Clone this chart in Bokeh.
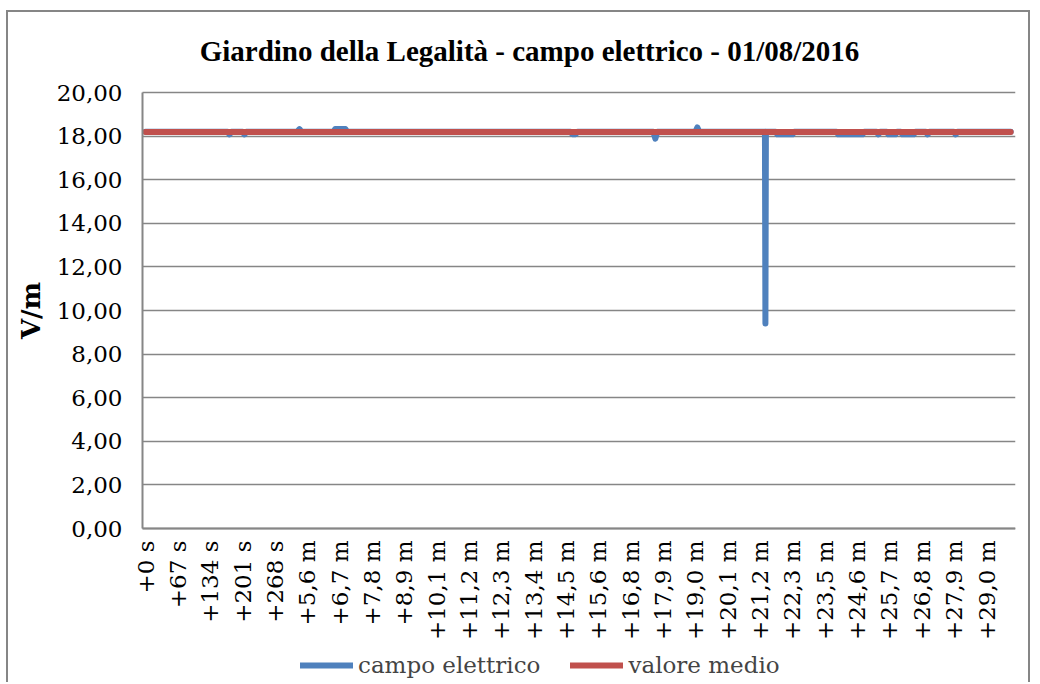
from bokeh.plotting import figure
from bokeh.models import (FixedTicker, CustomJSTickFormatter, Legend, LegendItem, Range1d, Label)
from bokeh.embed import file_html
from bokeh.resources import INLINE

title_text = "Giardino della Legalità - campo elettrico - 01/08/2016"
y_label = "V/m"
series_names = ["campo elettrico", "valore medio"]

tick_seconds = [0, 67, 134, 201, 268, 335, 402, 469, 536, 603, 670, 737, 804, 871,
                938, 1005, 1072, 1139, 1206, 1273, 1340, 1407, 1474, 1541, 1608, 1675, 1742]
tick_labels = ["+0 s", "+67 s", "+134 s", "+201 s", "+268 s", "+5,6 m", "+6,7 m", "+7,8 m",
               "+8,9 m", "+10,1 m", "+11,2 m", "+12,3 m", "+13,4 m", "+14,5 m", "+15,6 m",
               "+16,8 m", "+17,9 m", "+19,0 m", "+20,1 m", "+21,2 m", "+22,3 m", "+23,5 m",
               "+24,6 m", "+25,7 m", "+26,8 m", "+27,9 m", "+29,0 m"]

# campo elettrico (V/m): breakpoints (time in seconds)
field_time = [0, 170, 174, 178, 201, 205, 209, 314, 319, 323, 389, 393, 414, 418,
              880, 884, 891, 895, 1052, 1056, 1060, 1139, 1143, 1147, 1283, 1284, 1285,
              1305, 1309, 1340, 1344, 1431, 1435, 1485, 1489, 1514, 1518, 1522,
              1535, 1539, 1553, 1557, 1564, 1568, 1591, 1595, 1616, 1620, 1624,
              1674, 1678, 1682, 1792]
field_value = [18.20, 18.20, 18.08, 18.20, 18.20, 18.08, 18.20, 18.20, 18.32, 18.20, 18.20, 18.32, 18.32, 18.20,
               18.20, 18.09, 18.09, 18.20, 18.20, 17.88, 18.20, 18.20, 18.40, 18.20, 18.20, 9.40, 18.20,
               18.20, 18.08, 18.08, 18.20, 18.20, 18.08, 18.08, 18.20, 18.20, 18.08, 18.20,
               18.20, 18.08, 18.08, 18.20, 18.20, 18.08, 18.08, 18.20, 18.20, 18.08, 18.20,
               18.20, 18.08, 18.20, 18.20]

# valore medio
mean_time = [0, 1792]
mean_value = [18.19, 18.19]

y_ticks = [0, 2, 4, 6, 8, 10, 12, 14, 16, 18, 20]
y_min, y_max = 0, 20

BLUE = "#4F81BD"
RED = "#C0504D"
GRAY = "#868686"
SERIF = "DejaVu Serif"

# layout (page pixels): the frame covers the whole chart so nothing gets clipped
PX_PER_S = 0.4828
FRAME_L, AXIS_X, FRAME_R, ZERO_X = 8, 142, 1015, 145
FRAME_T, TOP_Y, ZERO_Y, FRAME_B = 12, 92, 528, 684
PX_PER_V = (ZERO_Y - TOP_Y) / (y_max - y_min)
x_lo = (FRAME_L - ZERO_X) / PX_PER_S
x_axis_at = (AXIS_X - ZERO_X) / PX_PER_S
x_hi = (FRAME_R - ZERO_X) / PX_PER_S
y_lo = y_min - (FRAME_B - ZERO_Y) / PX_PER_V
y_hi = y_max + (TOP_Y - FRAME_T) / PX_PER_V

p = figure(width=1024, height=672, output_backend="svg", toolbar_location=None,
           x_range=Range1d(x_lo, x_hi), y_range=Range1d(y_lo, y_hi),
           min_border_left=0, min_border_right=17, min_border_top=0, min_border_bottom=0)
p.margin = (10, 0, 0, 6)
p.styles = {"border-top": "2px solid #868686", "border-left": "2px solid #868686",
            "border-right": "2px solid #868686"}
p.outline_line_color = None
p.background_fill_color = "white"
p.border_fill_color = "white"

# title
p.add_layout(Label(x=(529 - ZERO_X) / PX_PER_S, y=y_max + (TOP_Y - 50) / PX_PER_V,
                   text=title_text, text_align="center", text_baseline="middle",
                   text_font="Liberation Serif", text_font_style="bold",
                   text_font_size="29px", text_color="black"))

# axes
p.xaxis.fixed_location = 0
p.xaxis.bounds = (x_axis_at, x_hi)
p.xaxis.ticker = FixedTicker(ticks=tick_seconds)
p.xaxis.major_label_overrides = {t: l for t, l in zip(tick_seconds, tick_labels)}
p.xaxis.major_label_orientation = 1.5707963
p.xaxis.major_label_standoff = 12
p.xaxis.major_tick_line_color = None
p.xaxis.major_tick_in = 0
p.xaxis.major_tick_out = 0
p.xaxis.minor_tick_line_color = None
p.xaxis.axis_line_color = GRAY
p.xaxis.axis_line_width = 2
p.xaxis.major_label_text_font = SERIF
p.xaxis.major_label_text_font_size = "23px"
p.xaxis.major_label_text_color = "black"

p.yaxis.fixed_location = x_axis_at
p.yaxis.bounds = (y_min, y_max)
p.yaxis.ticker = FixedTicker(ticks=y_ticks)
p.yaxis.formatter = CustomJSTickFormatter(code="return tick.toFixed(2).replace('.', ',');")
p.yaxis.major_label_standoff = 20
p.yaxis.major_tick_line_color = None
p.yaxis.major_tick_in = 0
p.yaxis.major_tick_out = 0
p.yaxis.minor_tick_line_color = None
p.yaxis.axis_line_color = GRAY
p.yaxis.axis_line_width = 2
p.yaxis.major_label_text_font = SERIF
p.yaxis.major_label_text_font_size = "23px"
p.yaxis.major_label_text_color = "black"

p.add_layout(Label(x=(30 - ZERO_X) / PX_PER_S, y=(y_min + y_max) / 2, text=y_label,
                   angle=1.5707963, text_align="center", text_baseline="middle",
                   text_font=SERIF, text_font_style="bold", text_font_size="26px",
                   text_color="black"))

p.xgrid.grid_line_color = None
p.ygrid.grid_line_color = GRAY
p.ygrid.grid_line_width = 1.5
p.ygrid.bounds = (y_min, y_max)
for g in p.ygrid:
    if "cross_bounds" in g.properties():
        g.cross_bounds = (x_axis_at, x_hi)

r1 = p.line(field_time, field_value, line_color=BLUE, line_width=6,
            line_cap="round", line_join="round")
r2 = p.line(mean_time, mean_value, line_color=RED, line_width=6, line_cap="round")

legend = Legend(items=[LegendItem(label=series_names[0], renderers=[r1]),
                       LegendItem(label=series_names[1], renderers=[r2])],
                orientation="horizontal", location=(292, 6),
                label_text_font=SERIF, label_text_font_size="23px",
                glyph_width=53, glyph_height=20, spacing=30, label_standoff=5,
                border_line_color=None, background_fill_alpha=0, margin=0, padding=2)
p.add_layout(legend)

open("out.html", "w").write(file_html(p, INLINE))
